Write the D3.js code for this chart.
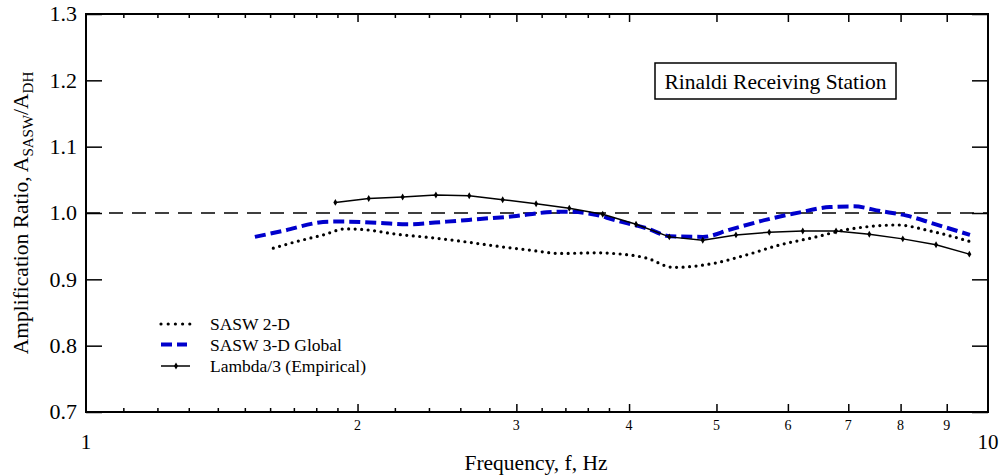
<!DOCTYPE html>
<meta charset="utf-8">
<script src="https://d3js.org/d3.v7.min.js"></script>
<style>
  body { margin: 0; background: #fff; }
  svg { display: block; }
</style>
<div id="chart"></div>
<script>

// ---- data ----
var sasw2dFreq = [1.613, 1.712, 1.833, 1.937, 2.030, 2.210, 2.407, 2.620, 2.853, 3.106, 3.354, 3.684, 3.842, 4.183, 4.478, 4.960, 5.403, 5.882, 6.403, 6.975, 7.593, 7.924, 8.624, 9.550]
var sasw2dRatio = [0.947, 0.957, 0.967, 0.976, 0.975, 0.968, 0.963, 0.957, 0.950, 0.944, 0.939, 0.940, 0.939, 0.932, 0.918, 0.924, 0.937, 0.952, 0.963, 0.975, 0.981, 0.982, 0.973, 0.957]

var sasw3dFreq = [1.539, 1.641, 1.864, 1.945, 2.118, 2.268, 2.511, 2.734, 2.977, 3.243, 3.412, 3.684, 3.839, 4.183, 4.441, 4.831, 5.176, 5.683, 6.187, 6.680, 7.090, 7.593, 8.128, 8.698, 9.550]
var sasw3dRatio = [0.964, 0.972, 0.987, 0.987, 0.985, 0.983, 0.987, 0.991, 0.995, 1.001, 1.002, 0.997, 0.990, 0.977, 0.965, 0.964, 0.975, 0.990, 1.001, 1.009, 1.010, 1.003, 0.996, 0.984, 0.967]

var lambdaFreq = [1.890, 2.058, 2.244, 2.443, 2.660, 2.897, 3.155, 3.434, 3.740, 4.072, 4.433, 4.828, 5.255, 5.721, 6.232, 6.785, 7.386, 8.045, 8.758, 9.535]
var lambdaRatio = [1.016, 1.022, 1.024, 1.027, 1.026, 1.020, 1.014, 1.007, 0.998, 0.983, 0.964, 0.959, 0.967, 0.971, 0.973, 0.973, 0.968, 0.961, 0.952, 0.938]

var yTicks = [0.7, 0.8, 0.9, 1.0, 1.1, 1.2, 1.3]
var xMajor = [2, 3, 4, 5, 6, 7, 8, 9]
var xMinor = [1.1, 1.2, 1.3, 1.4, 1.5, 1.6, 1.7, 1.8, 1.9, 2.2, 2.4, 2.6, 2.8, 3.2, 3.4, 3.6, 3.8]
var seriesNames = ["SASW 2-D", "SASW 3-D Global", "Lambda/3 (Empirical)"]

var w = 1002, h = 476
var margin = {top: 14, right: 14, bottom: 64, left: 86},
    innerWidth = w - margin.left - margin.right,
    innerHeight = h - margin.top - margin.bottom;

var serif = "'Liberation Serif', 'Times New Roman', Times, serif"

var svg = d3.select("#chart")
  .append("svg")
    .attr("width", w)
    .attr("height", h)
    .attr("font-family", serif)
    .style("font-family", serif)

var g = svg.append("g")
    .attr("transform", `translate(${margin.left},${margin.top})`)

var xScale = d3.scaleLog().domain([1, 10]).range([0, innerWidth])
var yScale = d3.scaleLinear().domain([0.7, 1.3]).range([innerHeight, 0])

//// axes (ticks point inward)
function styleAxis(sel) {
  sel.select(".domain").remove()
  sel.selectAll("line").attr("stroke", "#000").attr("stroke-width", 1.5)
  sel.selectAll("text").remove()
}

g.append("g")
  .attr("transform", `translate(0,${innerHeight})`)
  .call(d3.axisBottom(xScale).tickValues(xMajor).tickSize(-8))
  .call(styleAxis)
g.append("g")
  .attr("transform", `translate(0,${innerHeight})`)
  .call(d3.axisBottom(xScale).tickValues(xMinor).tickSize(-4))
  .call(styleAxis)
g.append("g")
  .call(d3.axisTop(xScale).tickValues(xMajor).tickSize(-8))
  .call(styleAxis)
g.append("g")
  .call(d3.axisTop(xScale).tickValues(xMinor).tickSize(-4))
  .call(styleAxis)
g.append("g")
  .call(d3.axisLeft(yScale).tickValues(yTicks).tickSize(-16))
  .call(styleAxis)
g.append("g")
  .attr("transform", `translate(${innerWidth},0)`)
  .call(d3.axisRight(yScale).tickValues(yTicks).tickSize(-16))
  .call(styleAxis)

g.append("rect")
  .attr("width", innerWidth)
  .attr("height", innerHeight)
  .attr("fill", "none")
  .attr("stroke", "#000")
  .attr("stroke-width", 2)

//// tick labels
g.selectAll(".ylab")
  .data(yTicks)
  .enter()
  .append("text")
    .attr("x", -9)
    .attr("y", d => yScale(d))
    .attr("dy", "0.34em")
    .attr("text-anchor", "end")
    .attr("font-size", "22px")
    .attr("fill", "#000")
    .text(d => d.toFixed(1))

g.selectAll(".xlab")
  .data(xMajor)
  .enter()
  .append("text")
    .attr("x", d => xScale(d))
    .attr("y", innerHeight + 18)
    .attr("text-anchor", "middle")
    .attr("font-size", "14px")
    .attr("fill", "#000")
    .text(d => d)

g.selectAll(".xend")
  .data([1, 10])
  .enter()
  .append("text")
    .attr("x", d => xScale(d))
    .attr("y", innerHeight + 37)
    .attr("text-anchor", "middle")
    .attr("font-size", "21px")
    .attr("fill", "#000")
    .text(d => d)

//// titles
svg.append("text")
  .attr("x", 536)
  .attr("y", 470)
  .attr("text-anchor", "middle")
  .attr("font-size", "21.5px")
  .text("Frequency, f, Hz")

var ylabel = svg.append("text")
  .attr("transform", `translate(28,${margin.top + innerHeight / 2}) rotate(-90)`)
  .attr("text-anchor", "middle")
  .attr("font-size", "21.5px")
ylabel.append("tspan").text("Amplification Ratio, A")
ylabel.append("tspan").attr("font-size", "15px").attr("dy", 5).text("SASW")
ylabel.append("tspan").attr("dy", -5).text("/A")
ylabel.append("tspan").attr("font-size", "15px").attr("dy", 5).text("DH")

//// reference line at 1.0
g.append("line")
  .attr("x1", 0)
  .attr("x2", innerWidth)
  .attr("y1", yScale(1))
  .attr("y2", yScale(1))
  .attr("stroke", "#000")
  .attr("stroke-width", 1.3)
  .attr("stroke-dasharray", "14,9")

//// series
var smooth = d3.line()
  .x(d => xScale(d[0]))
  .y(d => yScale(d[1]))
  .curve(d3.curveMonotoneX)
var straight = d3.line()
  .x(d => xScale(d[0]))
  .y(d => yScale(d[1]))

var s2 = d3.zip(sasw2dFreq, sasw2dRatio)
var s3 = d3.zip(sasw3dFreq, sasw3dRatio)
var lam = d3.zip(lambdaFreq, lambdaRatio)

g.append("path")
  .attr("d", smooth(s2))
  .attr("fill", "none")
  .attr("stroke", "#000")
  .attr("stroke-width", 3.2)
  .attr("stroke-linecap", "round")
  .attr("stroke-dasharray", "0,6.5")

g.append("path")
  .attr("d", smooth(s3))
  .attr("fill", "none")
  .attr("stroke", "#0000cc")
  .attr("stroke-width", 4)
  .attr("stroke-dasharray", "11,5")

g.append("path")
  .attr("d", straight(lam))
  .attr("fill", "none")
  .attr("stroke", "#000")
  .attr("stroke-width", 1.5)

var diamond = d3.symbol().type(d3.symbolDiamond).size(14)
g.selectAll(".pt")
  .data(lam)
  .enter()
  .append("path")
    .attr("d", diamond)
    .attr("transform", d => `translate(${xScale(d[0])},${yScale(d[1])})`)
    .attr("fill", "#000")

//// label box
svg.append("rect")
  .attr("x", 655)
  .attr("y", 63)
  .attr("width", 241)
  .attr("height", 36)
  .attr("fill", "#fff")
  .attr("stroke", "#000")
  .attr("stroke-width", 1.5)
svg.append("text")
  .attr("x", 775.5)
  .attr("y", 88.5)
  .attr("text-anchor", "middle")
  .attr("font-size", "21.5px")
  .text("Rinaldi Receiving Station")

//// legend
var legend = svg.append("g").attr("transform", "translate(161,324)")
var rows = [0, 20.5, 42]

legend.append("line")
  .attr("x1", 0).attr("x2", 29).attr("y1", rows[0]).attr("y2", rows[0])
  .attr("stroke", "#000").attr("stroke-width", 3.2)
  .attr("stroke-linecap", "round").attr("stroke-dasharray", "0,7.2")
legend.append("line")
  .attr("x1", 0).attr("x2", 26).attr("y1", rows[1]).attr("y2", rows[1])
  .attr("stroke", "#0000cc").attr("stroke-width", 4)
  .attr("stroke-dasharray", "11,5")
legend.append("line")
  .attr("x1", 0).attr("x2", 29).attr("y1", rows[2]).attr("y2", rows[2])
  .attr("stroke", "#000").attr("stroke-width", 1.5)
legend.append("path")
  .attr("d", diamond)
  .attr("transform", `translate(15,${rows[2]})`)

legend.selectAll("text")
  .data(seriesNames)
  .enter()
  .append("text")
    .attr("x", 49)
    .attr("y", (d, i) => rows[i] + 6)
    .attr("font-size", "17.5px")
    .text(d => d)

</script>
